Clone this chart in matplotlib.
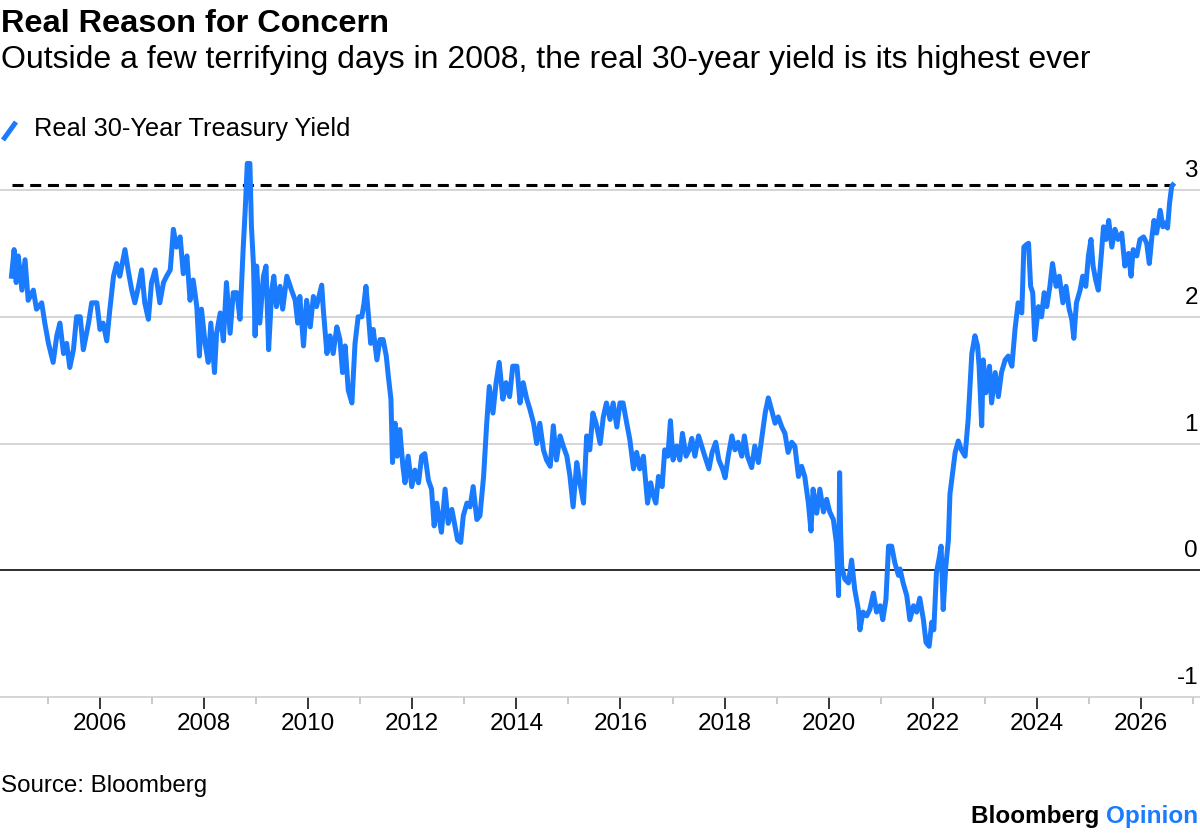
import matplotlib
matplotlib.use('Agg')
import matplotlib.pyplot as plt
from matplotlib import transforms
from matplotlib.lines import Line2D

plt.rcParams['font.family'] = ['Liberation Sans', 'DejaVu Sans']

title = 'Real Reason for Concern'
subtitle = 'Outside a few terrifying days in 2008, the real 30-year yield is its highest ever'
series_name = 'Real 30-Year Treasury Yield'
source = 'Source: Bloomberg'

# decimal years
years = [
    2004.30, 2004.35, 2004.39, 2004.43, 2004.50, 2004.56, 2004.62, 2004.72, 2004.78, 2004.88,
    2004.94, 2005.01, 2005.10, 2005.17, 2005.23, 2005.30, 2005.36, 2005.42, 2005.49, 2005.55,
    2005.62, 2005.68, 2005.78, 2005.84, 2005.94, 2006.00, 2006.06, 2006.13, 2006.19, 2006.26,
    2006.32, 2006.38, 2006.48, 2006.54, 2006.61, 2006.67, 2006.74, 2006.80, 2006.86, 2006.93,
    2006.99, 2007.06, 2007.15, 2007.22, 2007.28, 2007.35, 2007.41, 2007.47, 2007.54, 2007.60,
    2007.67, 2007.73, 2007.79, 2007.86, 2007.91, 2007.95, 2008.02, 2008.08, 2008.13, 2008.20,
    2008.24, 2008.31, 2008.37, 2008.43, 2008.50, 2008.56, 2008.63, 2008.69, 2008.75, 2008.79,
    2008.83, 2008.88, 2008.91, 2008.95, 2008.98, 2009.01, 2009.07, 2009.14, 2009.19, 2009.24,
    2009.30, 2009.34, 2009.39, 2009.46, 2009.51, 2009.59, 2009.68, 2009.75, 2009.80, 2009.84,
    2009.91, 2009.97, 2010.04, 2010.10, 2010.16, 2010.26, 2010.29, 2010.36, 2010.42, 2010.48,
    2010.55, 2010.61, 2010.66, 2010.71, 2010.77, 2010.84, 2010.90, 2010.96, 2011.03, 2011.07,
    2011.11, 2011.16, 2011.20, 2011.25, 2011.32, 2011.38, 2011.44, 2011.50, 2011.54, 2011.59,
    2011.62, 2011.67, 2011.71, 2011.76, 2011.82, 2011.86, 2011.92, 2011.99, 2012.05, 2012.12,
    2012.18, 2012.24, 2012.31, 2012.37, 2012.42, 2012.47, 2012.56, 2012.63, 2012.69, 2012.76,
    2012.82, 2012.87, 2012.93, 2012.98, 2013.05, 2013.11, 2013.17, 2013.24, 2013.30, 2013.37,
    2013.43, 2013.48, 2013.55, 2013.61, 2013.67, 2013.74, 2013.80, 2013.87, 2013.93, 2014.01,
    2014.07, 2014.13, 2014.20, 2014.26, 2014.33, 2014.39, 2014.45, 2014.52, 2014.58, 2014.65,
    2014.71, 2014.77, 2014.84, 2014.90, 2014.97, 2015.03, 2015.09, 2015.16, 2015.22, 2015.29,
    2015.35, 2015.41, 2015.47, 2015.53, 2015.61, 2015.67, 2015.73, 2015.80, 2015.86, 2015.93,
    2015.99, 2016.05, 2016.12, 2016.18, 2016.25, 2016.31, 2016.37, 2016.44, 2016.52, 2016.58,
    2016.63, 2016.68, 2016.73, 2016.80, 2016.85, 2016.91, 2016.96, 2017.01, 2017.08, 2017.14,
    2017.19, 2017.26, 2017.32, 2017.37, 2017.43, 2017.50, 2017.56, 2017.62, 2017.70, 2017.76,
    2017.83, 2017.89, 2017.96, 2018.01, 2018.07, 2018.14, 2018.20, 2018.26, 2018.33, 2018.38,
    2018.44, 2018.52, 2018.58, 2018.65, 2018.71, 2018.78, 2018.84, 2018.90, 2018.97, 2019.03,
    2019.10, 2019.16, 2019.22, 2019.29, 2019.35, 2019.42, 2019.48, 2019.54, 2019.61, 2019.66,
    2019.70, 2019.77, 2019.83, 2019.90, 2019.96, 2020.02, 2020.09, 2020.15, 2020.19, 2020.21,
    2020.23, 2020.25, 2020.31, 2020.38, 2020.44, 2020.50, 2020.57, 2020.60, 2020.66, 2020.73,
    2020.79, 2020.86, 2020.92, 2020.99, 2021.04, 2021.10, 2021.15, 2021.21, 2021.27, 2021.34,
    2021.37, 2021.43, 2021.50, 2021.56, 2021.63, 2021.69, 2021.75, 2021.82, 2021.87, 2021.93,
    2021.98, 2022.02, 2022.07, 2022.12, 2022.16, 2022.20, 2022.25, 2022.30, 2022.33, 2022.43,
    2022.49, 2022.55, 2022.62, 2022.68, 2022.75, 2022.81, 2022.86, 2022.89, 2022.94, 2022.97,
    2023.02, 2023.09, 2023.13, 2023.20, 2023.26, 2023.32, 2023.39, 2023.45, 2023.52, 2023.58,
    2023.64, 2023.71, 2023.75, 2023.80, 2023.84, 2023.88, 2023.92, 2023.96, 2024.03, 2024.09,
    2024.14, 2024.19, 2024.25, 2024.30, 2024.37, 2024.43, 2024.50, 2024.56, 2024.62, 2024.67,
    2024.71, 2024.76, 2024.83, 2024.88, 2024.94, 2024.99, 2025.04, 2025.08, 2025.13, 2025.18,
    2025.24, 2025.28, 2025.33, 2025.38, 2025.44, 2025.50, 2025.56, 2025.63, 2025.69, 2025.76,
    2025.81, 2025.85, 2025.92, 2025.98, 2026.05, 2026.11, 2026.16, 2026.21, 2026.25, 2026.30,
    2026.37, 2026.42, 2026.46, 2026.51, 2026.55, 2026.59, 2026.61,
]
yields = [
    2.32, 2.53, 2.27, 2.48, 2.21, 2.45, 2.13, 2.21, 2.06, 2.11,
    1.95, 1.79, 1.64, 1.85, 1.95, 1.71, 1.79, 1.60, 1.74, 2.00,
    2.00, 1.74, 1.95, 2.11, 2.11, 1.90, 1.95, 1.81, 2.06, 2.32,
    2.42, 2.32, 2.53, 2.37, 2.21, 2.11, 2.24, 2.37, 2.11, 1.98,
    2.27, 2.37, 2.11, 2.27, 2.32, 2.37, 2.69, 2.55, 2.63, 2.34,
    2.48, 2.13, 2.29, 2.08, 1.69, 2.06, 1.79, 1.64, 1.95, 1.56,
    1.87, 2.03, 1.81, 2.27, 1.87, 2.19, 2.19, 1.98, 2.53, 2.84,
    3.21, 3.21, 2.71, 2.40, 1.85, 2.40, 1.95, 2.32, 2.40, 1.74,
    2.21, 2.32, 2.08, 2.24, 2.06, 2.32, 2.21, 2.13, 1.95, 2.16,
    1.77, 2.13, 1.92, 2.16, 2.08, 2.25, 2.06, 1.71, 1.85, 1.71,
    1.92, 1.82, 1.56, 1.77, 1.42, 1.32, 1.79, 2.00, 2.00, 2.10,
    2.24, 2.00, 1.79, 1.90, 1.66, 1.82, 1.82, 1.69, 1.53, 1.35,
    0.85, 1.16, 0.90, 1.11, 0.82, 0.69, 0.90, 0.66, 0.79, 0.69,
    0.90, 0.92, 0.71, 0.64, 0.35, 0.53, 0.30, 0.64, 0.37, 0.48,
    0.35, 0.24, 0.22, 0.43, 0.53, 0.50, 0.66, 0.40, 0.43, 0.74,
    1.16, 1.45, 1.24, 1.48, 1.64, 1.35, 1.48, 1.37, 1.61, 1.61,
    1.32, 1.48, 1.35, 1.27, 1.16, 1.00, 1.16, 0.95, 0.87, 0.82,
    1.14, 0.87, 1.06, 0.98, 0.90, 0.74, 0.50, 0.85, 0.69, 0.53,
    1.06, 0.95, 1.24, 1.16, 1.00, 1.21, 1.32, 1.19, 1.32, 1.13,
    1.32, 1.32, 1.16, 1.03, 0.80, 0.93, 0.80, 0.90, 0.53, 0.69,
    0.59, 0.53, 0.74, 0.66, 0.95, 0.90, 1.18, 0.87, 0.98, 0.87,
    1.08, 0.90, 0.95, 1.04, 0.90, 1.06, 0.98, 0.90, 0.80, 0.93,
    1.01, 0.87, 0.80, 0.73, 0.90, 1.06, 0.95, 1.01, 0.90, 1.06,
    0.90, 0.81, 0.98, 0.85, 1.03, 1.24, 1.36, 1.27, 1.16, 1.21,
    1.13, 1.08, 0.93, 1.01, 0.98, 0.74, 0.82, 0.74, 0.53, 0.31,
    0.64, 0.45, 0.64, 0.46, 0.56, 0.46, 0.40, 0.21, -0.20, 0.77,
    0.30, 0.03, -0.07, -0.10, 0.08, -0.15, -0.31, -0.47, -0.33, -0.36,
    -0.31, -0.18, -0.33, -0.28, -0.39, -0.23, 0.19, 0.19, 0.06, -0.04,
    0.01, -0.10, -0.20, -0.39, -0.28, -0.33, -0.22, -0.39, -0.57, -0.60,
    -0.41, -0.47, -0.02, 0.09, 0.19, -0.31, 0.03, 0.24, 0.60, 0.93,
    1.02, 0.95, 0.90, 1.19, 1.71, 1.85, 1.77, 1.61, 1.14, 1.66,
    1.40, 1.61, 1.32, 1.56, 1.37, 1.56, 1.66, 1.69, 1.61, 1.90,
    2.11, 2.03, 2.55, 2.57, 2.58, 2.24, 2.19, 1.82, 2.08, 2.00,
    2.19, 2.08, 2.24, 2.42, 2.24, 2.32, 2.11, 2.24, 2.06, 1.98,
    1.83, 2.11, 2.21, 2.32, 2.24, 2.48, 2.61, 2.40, 2.29, 2.21,
    2.50, 2.71, 2.61, 2.76, 2.55, 2.69, 2.61, 2.66, 2.40, 2.50,
    2.32, 2.53, 2.48, 2.61, 2.63, 2.58, 2.42, 2.63, 2.76, 2.66,
    2.84, 2.71, 2.74, 2.70, 2.90, 3.03, 3.04,
]

y_ticks = [-1, 0, 1, 2, 3]
x_major = list(range(2006, 2027, 2))
x_minor = list(range(2005, 2028, 2))

BLUE = '#1a7bff'
GRID = '#cccccc'
W, H = 1200, 833


def fx(px):
    return px / W


def fy(py):
    return 1 - py / H


fig = plt.figure(figsize=(W / 100, H / 100), dpi=100)
ax = fig.add_axes([0, fy(697), 1, (697 - 152) / H])
ax.set_xlim(2004.079, 2027.134)
ax.set_ylim(-1, 3.3)

for v in y_ticks[1:]:
    ax.axhline(v, color='black' if v == 0 else GRID, lw=1.15, zorder=1)

# dashed marker at the latest level
ax.hlines(yields[-1], years[0], years[-1], colors='black', lw=2.2,
          linestyles=(0, (3.6, 2.2)), zorder=2)
ax.plot(years, yields, color=BLUE, lw=3.6, zorder=3)

for side in ['top', 'left', 'right']:
    ax.spines[side].set_visible(False)
ax.spines['bottom'].set_color(GRID)
ax.spines['bottom'].set_linewidth(1.15)

ax.set_yticks([])
ax.set_xticks(x_major)
ax.set_xticklabels([str(y) for y in x_major])
ax.set_xticks(x_minor, minor=True)
ax.tick_params(axis='x', which='major', length=8.6, width=1.1, color='black',
               pad=3, labelsize=17.5)
ax.tick_params(axis='x', which='minor', length=5, width=1.1, color='#bbbbbb')

# y labels sit just above their gridlines, flush right
lab_trans = transforms.offset_copy(
    transforms.blended_transform_factory(ax.transAxes, ax.transData),
    fig=fig, x=-2, y=13, units='dots')
for v in y_ticks:
    ax.text(1.0, v, str(v), transform=lab_trans, ha='right', va='baseline',
            fontsize=17.5)

fig.text(fx(1), fy(32), title, fontsize=23.4, fontweight='bold', va='baseline')
fig.text(fx(1), fy(68), subtitle, fontsize=23, va='baseline')

fig.add_artist(Line2D([fx(3), fx(16)], [fy(140), fy(122)], transform=fig.transFigure,
                      color=BLUE, lw=3.6, solid_capstyle='butt'))
fig.text(fx(34), fy(136), series_name, fontsize=18.3, va='baseline')

fig.text(fx(1), fy(792), source, fontsize=17.4, va='baseline')
op = fig.text(fx(1198), fy(823), 'Opinion', fontsize=17.5, fontweight='bold',
              color=BLUE, ha='right', va='baseline')
ax.annotate('Bloomberg ', xy=(0, 0), xycoords=op, ha='right', va='bottom',
            fontsize=17.5, fontweight='bold', annotation_clip=False)

fig.savefig('out.png', dpi=100)
